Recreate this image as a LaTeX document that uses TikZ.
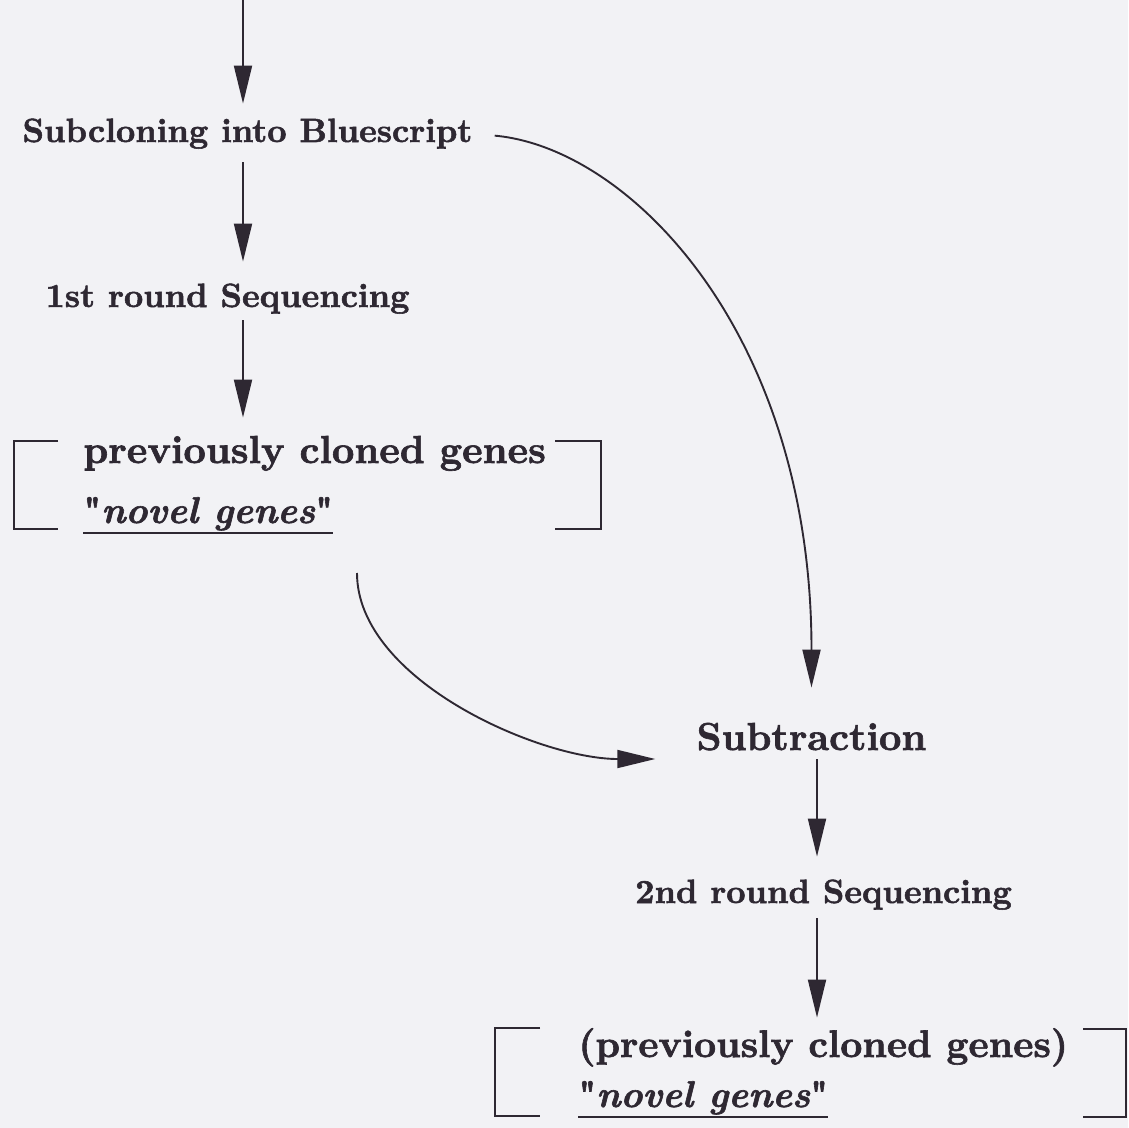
\documentclass[tikz,border=0pt]{standalone}
\usepackage{fontspec}
\setmainfont{lmroman10-regular}[Extension=.otf,
    BoldFont=lmroman10-bold, BoldItalicFont=lmroman10-bolditalic,
    BoldFeatures={FakeBold=1.6}, BoldItalicFeatures={FakeBold=1.6}]
\definecolor{paper}{RGB}{242,242,245}
\definecolor{ink}{RGB}{46,40,50}
\usepackage{tikz}
\usetikzlibrary{positioning,arrows.meta}

\begin{document}
\begin{tikzpicture}[x=0.5pt, y=-0.5pt,
    lbl/.style={inner sep=0pt, text=ink, font=\fontsize{16.8}{20}\selectfont\bfseries,
                text height=12pt, text depth=3.7pt},
    big/.style={lbl, font=\fontsize{19.5}{23}\selectfont\bfseries,
                text height=14pt, text depth=4.3pt},
    nov/.style={big, font=\fontsize{18.6}{23}\selectfont\bfseries},
    arr/.style={-{Triangle[length=19pt,width=9pt]}, draw=ink, line width=0.95pt},
    brk/.style={draw=ink, line width=0.95pt}]
    \useasboundingbox (0,0) rectangle (1128,1128);
    \fill[paper] (0,0) rectangle (1128,1128);

    % left column
    \coordinate (top) at (243,0);
    \node[lbl, anchor=base] (sub) at (247.5,142) {Subcloning into Bluescript};
    \node[lbl, anchor=base] (seq1) at (227.5,307) {1st round Sequencing};
    \node[big, anchor=base west] (prev1) at (83,463) {previously cloned genes};
    \node[nov, anchor=base west] (nov1) at (83,523) {\textup{\textquotedbl}\textit{novel genes}\textup{\textquotedbl}};
    \coordinate (loopstart) at (357,573);

    % right column
    \coordinate (colB) at (817,0);
    \node[big, anchor=base] (subtr) at (811.5,750) {Subtraction};
    \node[lbl, anchor=base] (seq2) at (823.5,903) {2nd round Sequencing};
    \node[big, anchor=base west, font=\fontsize{19.2}{23}\selectfont\bfseries] (prev2) at (578,1057) {(previously cloned genes)};
    \node[nov, anchor=base west] (nov2) at (578,1107) {\textup{\textquotedbl}\textit{novel genes}\textup{\textquotedbl}};

    \draw[arr, shorten >=7pt] (top) -- (sub.north -| top);
    \draw[arr, shorten <=6.3pt, shorten >=10.5pt] (sub.south -| top) -- (seq1.north -| top);
    \draw[arr, shorten <=2.8pt, shorten >=8.5pt] (seq1.south -| top) -- (prev1.north -| top);
    \draw[arr, shorten >=11pt] (subtr.south -| colB) -- (seq2.north -| colB);
    \draw[arr, shorten <=3.8pt, shorten >=5.5pt] (seq2.south -| colB) -- (prev2.north -| colB);

    \draw[arr, shorten <=11pt, shorten >=17pt]
        (sub.east) .. controls +(157,14) and +(0,-388) .. (subtr.north);
    \draw[arr, shorten >=20.5pt]
        (loopstart) .. controls +(0,107) and +(-157,0) .. ([yshift=-4.5pt]subtr.base west);

    % brackets and underlines
    \draw[brk] (58,441) -- (14,441) -- (14,529) -- (58,529);
    \draw[brk] (555,441) -- (601,441) -- (601,529) -- (555,529);
    \draw[brk] (540,1028) -- (495,1028) -- (495,1116) -- (540,1116);
    \draw[brk] (1083,1029) -- (1126,1029) -- (1126,1117) -- (1083,1117);
    \draw[brk, line width=0.8pt] ([yshift=-5pt]nov1.base west) -- ([yshift=-5pt]nov1.base east);
    \draw[brk, line width=0.8pt] ([yshift=-5pt]nov2.base west) -- ([yshift=-5pt]nov2.base east);
\end{tikzpicture}
\end{document}
